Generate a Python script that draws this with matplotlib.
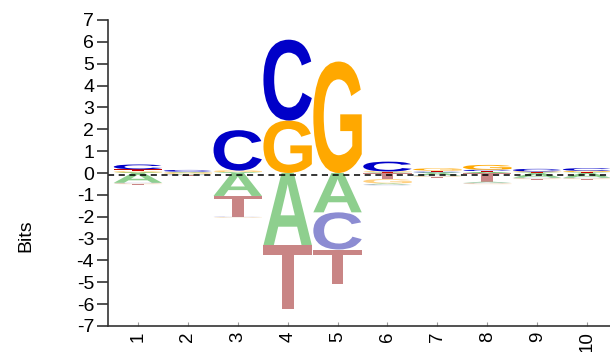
import matplotlib
matplotlib.use("Agg")
import matplotlib.pyplot as plt
from matplotlib.textpath import TextPath
from matplotlib.patches import PathPatch
from matplotlib.font_manager import FontProperties
from matplotlib.transforms import Affine2D

positions = [1, 2, 3, 4, 5, 6, 7, 8, 9, 10]
tick_labels = ["1", "2", "3", "4", "5", "6", "7", "8", "9", "10"]
letters = ["A", "C", "G", "T"]

# positive (enriched) heights in bits
pos_A = [0.03, 0.02, 0.03, 0.0, 0.0, 0.02, 0.03, 0.04, 0.02, 0.02]
pos_C = [0.22, 0.08, 1.85, 3.70, 0.0, 0.45, 0.03, 0.06, 0.12, 0.12]
pos_G = [0.04, 0.02, 0.05, 2.40, 5.10, 0.03, 0.10, 0.22, 0.03, 0.05]
pos_T = [0.10, 0.02, 0.03, 0.0, 0.0, 0.02, 0.05, 0.05, 0.02, 0.03]

# negative (depleted) heights in bits
neg_A = [0.45, 0.03, 1.05, 3.30, 1.80, 0.05, 0.12, 0.05, 0.22, 0.22]
neg_C = [0.03, 0.02, 0.02, 0.0, 1.70, 0.03, 0.03, 0.03, 0.03, 0.03]
neg_G = [0.03, 0.05, 0.02, 0.0, 0.0, 0.20, 0.03, 0.03, 0.03, 0.03]
neg_T = [0.03, 0.02, 0.95, 2.90, 1.60, 0.28, 0.03, 0.40, 0.03, 0.03]

pos_colors = {"A": "#1aa01a", "C": "#0000c8", "G": "#ffa800", "T": "#c80000"}
neg_colors = {"A": "#8ecf8e", "C": "#8c8cd2", "G": "#ffd080", "T": "#c98585"}

fp = FontProperties(family="Liberation Sans", weight="bold")

def draw_letter(ax, ch, x, y0, h, w, color):
    if h <= 0:
        return
    tp = TextPath((0, 0), ch, size=1, prop=fp)
    bb = tp.get_extents()
    tr = (Affine2D().translate(-bb.x0, -bb.y0)
          .scale(w / bb.width, h / bb.height)
          .translate(x - w / 2, y0))
    path = tr.transform_path(tp)
    ax.add_patch(PathPatch(path, facecolor=color, edgecolor="none", lw=0))

fig = plt.figure(figsize=(6.1, 3.52), dpi=100)
ax = fig.add_axes([108 / 610, 26 / 352, 502 / 610, 306 / 352])

pos_data = {"A": pos_A, "C": pos_C, "G": pos_G, "T": pos_T}
neg_data = {"A": neg_A, "C": neg_C, "G": neg_G, "T": neg_T}
width = 0.97

for i, p in enumerate(positions):
    items = sorted(letters, key=lambda L: pos_data[L][i])
    y = 0.0
    for L in items:
        h = pos_data[L][i]
        draw_letter(ax, L, p, y, h, width, pos_colors[L])
        y += h
    items = sorted(letters, key=lambda L: -neg_data[L][i])
    y = 0.0
    for L in items:
        h = neg_data[L][i]
        draw_letter(ax, L, p, y - h, h, width, neg_colors[L])
        y -= h

ax.axhline(-0.1, color="black", lw=1.1, ls=(0, (4, 3)))

ax.set_xlim(0.4, 10.46)
ax.set_ylim(-7, 7)
ax.set_yticks(range(-7, 8))
ax.set_yticklabels([str(v) for v in range(-7, 8)], fontsize=14, family="Liberation Sans")
ax.set_xticks(positions)
ax.set_xticklabels(tick_labels, rotation=90, fontsize=13.5, family="Liberation Sans")
for s in ["top", "right"]:
    ax.spines[s].set_visible(False)
ax.spines["left"].set_color("#333333")
ax.spines["bottom"].set_color("#333333")
ax.spines["left"].set_linewidth(1.2)
ax.spines["bottom"].set_linewidth(1.2)
ax.tick_params(axis="y", direction="out", length=8, width=1.2, color="#333333", pad=2)
ax.tick_params(axis="x", direction="in", length=3, width=0.8, color="#999999", pad=4)

fig.text(26 / 610, 1 - 236 / 352, "Bits", rotation=90, fontsize=14,
         family="Liberation Sans", ha="center", va="center")

fig.savefig("out.png", dpi=100)
